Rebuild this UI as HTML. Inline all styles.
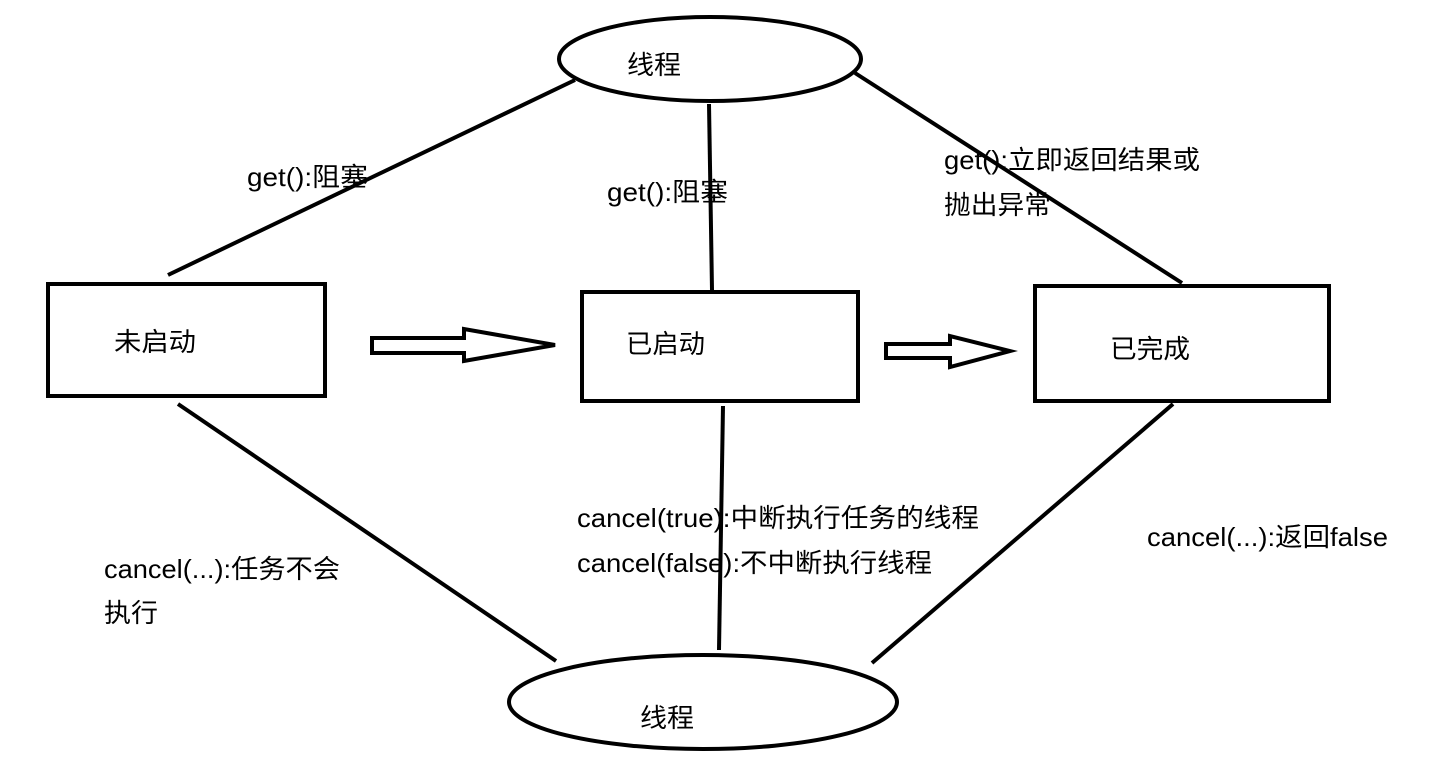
<!DOCTYPE html>
<html><head><meta charset="utf-8"><style>
html,body{margin:0;padding:0;background:#fff;}
svg text{font-family:"Liberation Sans","Noto Sans CJK SC",sans-serif;font-size:26px;fill:#000;}
</style></head><body>
<svg width="1432" height="768" viewBox="0 0 1432 768" xmlns="http://www.w3.org/2000/svg">
<g fill="none" stroke="#000" stroke-width="4">
<ellipse cx="710" cy="59" rx="151" ry="42"/>
<ellipse cx="703" cy="702" rx="194" ry="47"/>
<rect x="48" y="284" width="277" height="112"/>
<rect x="582" y="292" width="276" height="109"/>
<rect x="1035" y="286" width="294" height="115"/>
<line x1="575" y1="80" x2="168" y2="275"/>
<line x1="709" y1="104" x2="712" y2="290"/>
<line x1="855" y1="73" x2="1182" y2="283"/>
<line x1="178" y1="404" x2="556" y2="661"/>
<line x1="723" y1="406" x2="719" y2="650"/>
<line x1="1173" y1="404" x2="872" y2="663"/>
<polygon points="372,338 464,338 464,329 555,345 464,361 464,353 372,353"/>
<polygon points="886,344 950,344 950,336 1010,351 950,367 950,358 886,358"/>
</g>
<g lengthAdjust="spacingAndGlyphs">
<text x="627" y="74" textLength="54" lengthAdjust="spacingAndGlyphs">线程</text>
<text x="640" y="727" textLength="54" lengthAdjust="spacingAndGlyphs">线程</text>
<text x="114" y="351" textLength="82" lengthAdjust="spacingAndGlyphs">未启动</text>
<text x="626" y="353" textLength="79" lengthAdjust="spacingAndGlyphs">已启动</text>
<text x="1110" y="358" textLength="80" lengthAdjust="spacingAndGlyphs">已完成</text>
<text x="247" y="186" textLength="121" lengthAdjust="spacingAndGlyphs">get():阻塞</text>
<text x="607" y="201" textLength="121" lengthAdjust="spacingAndGlyphs">get():阻塞</text>
<text x="944" y="169" textLength="256" lengthAdjust="spacingAndGlyphs">get():立即返回结果或</text>
<text x="944" y="214" textLength="107" lengthAdjust="spacingAndGlyphs">抛出异常</text>
<text x="104" y="578" textLength="236" lengthAdjust="spacingAndGlyphs">cancel(...):任务不会</text>
<text x="104" y="622" textLength="54" lengthAdjust="spacingAndGlyphs">执行</text>
<text x="577" y="527" textLength="402" lengthAdjust="spacingAndGlyphs">cancel(true):中断执行任务的线程</text>
<text x="577" y="572" textLength="355" lengthAdjust="spacingAndGlyphs">cancel(false):不中断执行线程</text>
<text x="1147" y="546" textLength="241" lengthAdjust="spacingAndGlyphs">cancel(...):返回false</text>
</g>
</svg>
</body></html>
